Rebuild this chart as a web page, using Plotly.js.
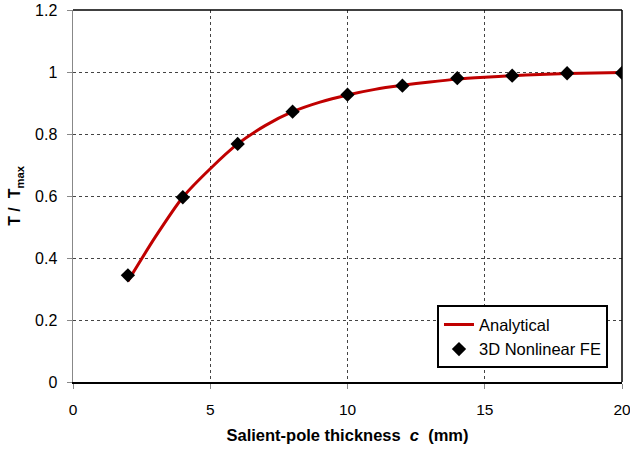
<!DOCTYPE html>
<html>
<head>
<meta charset="utf-8">
<script src="https://cdn.plot.ly/plotly-3.0.1.min.js"></script>
<style>html,body{margin:0;padding:0;background:#fff;}</style>
</head>
<body>
<div id="chart" style="width:630px;height:452px;"></div>
<script>
// Analytical curve
var analyticalX = [2, 3, 4, 5, 6, 7, 8, 9, 10, 11, 12, 13, 14, 15, 16, 17, 18, 19, 20];
var analyticalY = [0.325, 0.468, 0.596, 0.688, 0.768, 0.827, 0.872, 0.903, 0.926, 0.944, 0.957, 0.968, 0.977, 0.983, 0.988, 0.992, 0.995, 0.997, 0.998];
// 3D nonlinear FE points
var feX = [2, 4, 6, 8, 10, 12, 14, 16, 18, 20];
var feY = [0.344, 0.596, 0.768, 0.872, 0.927, 0.956, 0.980, 0.988, 0.996, 0.997];
var xTicks = [0, 5, 10, 15, 20];
var yTicks = [0, 0.2, 0.4, 0.6, 0.8, 1, 1.2];
var yTickText = ['0', '0.2', '0.4', '0.6', '0.8', '1', '1.2'];

var font = "Liberation Sans, Arial, sans-serif";

var traces = [
  {x: analyticalX, y: analyticalY, mode: 'lines', name: 'Analytical',
   line: {color: '#C00000', width: 3, shape: 'spline', smoothing: 0.7}},
  {x: feX, y: feY, mode: 'markers', name: '3D Nonlinear FE',
   marker: {symbol: 'diamond', color: '#000', size: 11}}
];

var layout = {
  width: 630, height: 452,
  margin: {l: 73, r: 8, t: 10, b: 70},
  paper_bgcolor: '#fff', plot_bgcolor: '#fff',
  font: {family: font, size: 15, color: '#000'},
  showlegend: true,
  legend: {x: 0.663, y: 0.206, xanchor: 'left', yanchor: 'top',
           bordercolor: '#000', borderwidth: 2, bgcolor: '#fff',
           font: {size: 16.5}, tracegroupgap: 14, itemwidth: 30},
  xaxis: {range: [0, 20], tickvals: xTicks, ticktext: xTicks.map(String),
          showgrid: true, gridcolor: '#444', griddash: 'dot', gridwidth: 1,
          zeroline: false, showline: true, linecolor: '#000', linewidth: 1.5,
          ticks: 'outside', ticklen: 5, tickcolor: '#888', ticklabelstandoff: 8,
          ticklabeloverflow: 'allow', tickfont: {size: 15.5},
          title: {text: '<b>Salient-pole thickness  <i>c</i>  (mm)</b>', font: {size: 16.5}, standoff: 12}},
  yaxis: {range: [0, 1.2], tickvals: yTicks, ticktext: yTickText,
          showgrid: true, gridcolor: '#444', griddash: 'dot', gridwidth: 1,
          zeroline: false, showline: true, linecolor: '#888', linewidth: 1.5,
          ticks: 'outside', ticklen: 5, tickcolor: '#888', ticklabelstandoff: 6,
          tickfont: {size: 16},
          title: {text: '<b>T /  T<sub>max</sub></b>', font: {size: 16}, standoff: 10}},
  shapes: [
    {type: 'line', xref: 'paper', yref: 'paper', x0: 0, x1: 1, y0: 1, y1: 1, line: {color: '#000', width: 1.5}},
    {type: 'line', xref: 'paper', yref: 'paper', x0: 1, x1: 1, y0: 0, y1: 1, line: {color: '#000', width: 1.5}}
  ]
};

Plotly.newPlot('chart', traces, layout, {displayModeBar: false, staticPlot: true});
</script>
</body>
</html>
